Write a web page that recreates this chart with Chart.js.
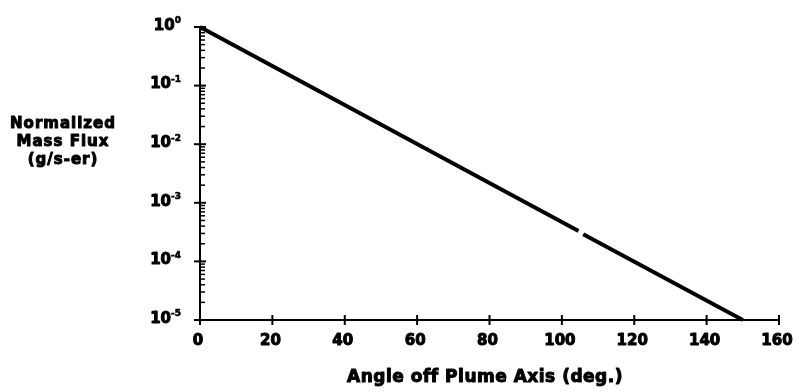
<!DOCTYPE html>
<html>
<head>
<meta charset="utf-8">
<script src="https://cdn.jsdelivr.net/npm/chart.js@4/dist/chart.umd.min.js"></script>
<style>
  html, body { margin: 0; padding: 0; background: #fff; }
  #wrap { width: 799px; height: 392px; }
</style>
</head>
<body>
<div id="wrap"><canvas id="c" width="799" height="392"></canvas></div>
<script>
// Angle off plume axis (deg.) and normalized mass flux (g/s-sr)
const angles = [0, 104.6, 105.2, 105.9, 150];
const flux   = [1, 3.3e-4, null, 2.9e-4, 1e-5];

const xTicks = [0, 20, 40, 60, 80, 100, 120, 140, 160];
const yExponents = [0, -1, -2, -3, -4, -5];

const yTitleLines = ['Normalized', 'Mass Flux', '(g/s-er)'];
const xTitle = 'Angle off Plume Axis (deg.)';

const FONT = '"DejaVu Sans", "Liberation Sans", Arial, sans-serif';

// heavy text: fill plus a thin outline in the same colour
function heavyText(ctx, text, x, y, w) {
  ctx.lineWidth = w;
  ctx.lineJoin = 'round';
  ctx.strokeText(text, x, y);
  ctx.fillText(text, x, y);
}

const axesPlugin = {
  id: 'axesPlugin',
  afterDraw(chart) {
    const ctx = chart.ctx;
    const xs = chart.scales.x, ys = chart.scales.y;
    const x0 = xs.getPixelForValue(0);
    const y0 = ys.getPixelForValue(1e-5);
    const yTop = ys.getPixelForValue(1);
    const xEnd = xs.getPixelForValue(160);
    ctx.save();
    ctx.strokeStyle = '#000';
    ctx.fillStyle = '#000';
    ctx.lineCap = 'butt';

    // axis lines
    ctx.lineWidth = 2;
    ctx.beginPath();
    ctx.moveTo(x0, yTop);
    ctx.lineTo(x0, y0);
    ctx.lineTo(xEnd, y0);
    ctx.stroke();

    // y ticks: majors across the axis, minors inside
    yExponents.forEach(e => {
      const p = ys.getPixelForValue(Math.pow(10, e));
      ctx.lineWidth = 2;
      ctx.beginPath();
      ctx.moveTo(x0 - 6, p); ctx.lineTo(x0 + 6, p); ctx.stroke();
      if (e > -5) {
        for (let m = 2; m <= 9; m++) {
          const q = ys.getPixelForValue(m * Math.pow(10, e - 1));
          ctx.lineWidth = 1.5;
          ctx.beginPath();
          ctx.moveTo(x0 - 1, q); ctx.lineTo(x0 + 5, q); ctx.stroke();
        }
      }
      // label "10" with raised exponent
      const exp = String(e);
      ctx.font = 'bold 9px ' + FONT;
      const ew = ctx.measureText(exp).width;
      ctx.font = 'bold 15px ' + FONT;
      const bw = ctx.measureText('10').width;
      const right = x0 - 19;
      ctx.textBaseline = 'middle';
      ctx.textAlign = 'left';
      heavyText(ctx, '10', right - ew - bw, p - 1, 1);
      ctx.font = 'bold 9px ' + FONT;
      heavyText(ctx, exp, right - ew, p - 6, 0.6);
    });

    // x ticks and labels
    xTicks.forEach(v => {
      const p = xs.getPixelForValue(v);
      ctx.lineWidth = 2;
      ctx.beginPath();
      ctx.moveTo(p, y0 - 5); ctx.lineTo(p, y0 + 5); ctx.stroke();
      ctx.font = 'bold 15px ' + FONT;
      ctx.textAlign = 'center';
      ctx.textBaseline = 'middle';
      heavyText(ctx, String(v), p - 2, y0 + 21, 1);
    });

    // axis titles
    ctx.font = 'bold 17px ' + FONT;
    ctx.textAlign = 'center';
    ctx.textBaseline = 'middle';
    ctx.letterSpacing = '0.5px';
    heavyText(ctx, xTitle, 485, 378, 1);

    ctx.font = 'bold 15px ' + FONT;
    ctx.letterSpacing = '1px';
    yTitleLines.forEach((t, i) => {
      heavyText(ctx, t, 63, 124 + i * 18, 1);
    });
    ctx.letterSpacing = '0px';
    ctx.restore();
  }
};

new Chart(document.getElementById('c'), {
  type: 'line',
  data: {
    datasets: [{
      data: angles.map((a, i) => ({ x: a, y: flux[i] })),
      borderColor: '#000',
      borderWidth: 4,
      pointRadius: 0,
      fill: false,
      tension: 0,
      spanGaps: false,
      clip: false
    }]
  },
  options: {
    responsive: false,
    animation: false,
    devicePixelRatio: 1,
    layout: { padding: { top: 27, right: 20, left: 0, bottom: 0 } },
    plugins: { legend: { display: false }, tooltip: { enabled: false } },
    scales: {
      x: {
        type: 'linear', min: 0, max: 160,
        grid: { display: false }, border: { display: false },
        ticks: { display: false },
        afterFit(s) { s.height = 72; }
      },
      y: {
        type: 'logarithmic', min: 1e-5, max: 1,
        grid: { display: false }, border: { display: false },
        ticks: { display: false },
        afterFit(s) { s.width = 200; }
      }
    }
  },
  plugins: [axesPlugin]
});
</script>
</body>
</html>
